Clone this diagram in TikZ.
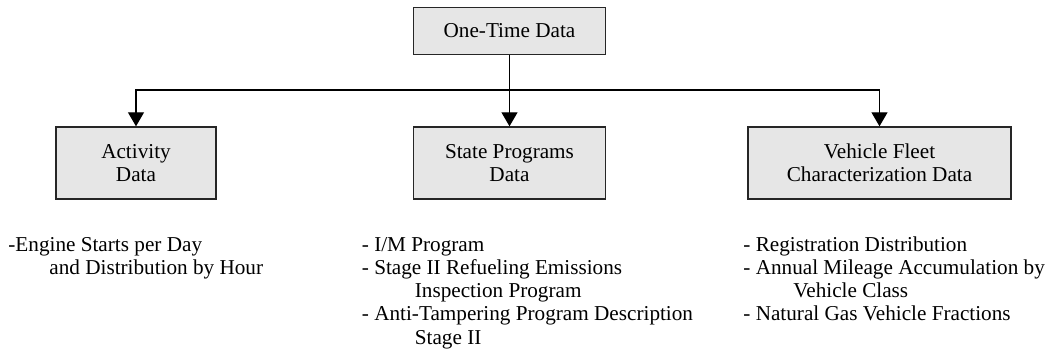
\documentclass[tikz,border=0pt]{standalone}
\usepackage{fontspec}
\setmainfont{Liberation Serif}
\usetikzlibrary{arrows.meta}
\definecolor{boxgray}{HTML}{E6E6E6}
\tikzset{
databox/.style={
  draw=black!85,fill=boxgray,line width=0.7pt,
  align=center,inner sep=0pt,minimum height=36pt},
itemlist/.style={anchor=base west,inner sep=0pt},
feed/.style={-{Triangle[length=7pt,width=8pt]},line width=0.6pt}}

\begin{document}
\begin{tikzpicture}[x=0.5pt,y=-0.5pt,font=\fontsize{10.6}{11.65}\selectfont]
\useasboundingbox (0,0) rectangle (1050,355);
\node[databox,minimum width=96pt,minimum height=23.5pt] (onetime) at (509.5,31) {One-Time Data};
\node[databox,minimum width=80pt] (activity) at (136,163) {Activity\\Data};
\node[databox,minimum width=96pt] (state) at (509.5,163) {State Programs\\Data};
\node[databox,minimum width=131.5pt] (fleet) at (879.5,163) {Vehicle Fleet\\Characterization Data};
\coordinate (split) at (509.5,90);

\draw[line width=0.6pt] (onetime.south) -- (split);
\draw[feed] (split) -| (activity.north);
\draw[feed] (split) -- (state.north);
\draw[feed] (split) -| (fleet.north);

% lists below the boxes
\node[itemlist] (actlist) at (8,251) {\begin{tabular}[t]{@{}l@{}}
-Engine Starts per Day\\
\hspace*{20.5pt}and Distribution by Hour
\end{tabular}};
\node[itemlist] (statelist) at (361.5,251) {\begin{tabular}[t]{@{}l@{}}
- I/M Program\\
- Stage II Refueling Emissions\\
\hspace*{26.5pt}Inspection Program\\
- Anti-Tampering Program Description\\
\hspace*{26.5pt}Stage II
\end{tabular}};
\node[itemlist] (fleetlist) at (743,251) {\begin{tabular}[t]{@{}l@{}}
- Registration Distribution\\
- Annual Mileage Accumulation by\\
\hspace*{25pt}Vehicle Class\\
- Natural Gas Vehicle Fractions
\end{tabular}};
\end{tikzpicture}
\end{document}
